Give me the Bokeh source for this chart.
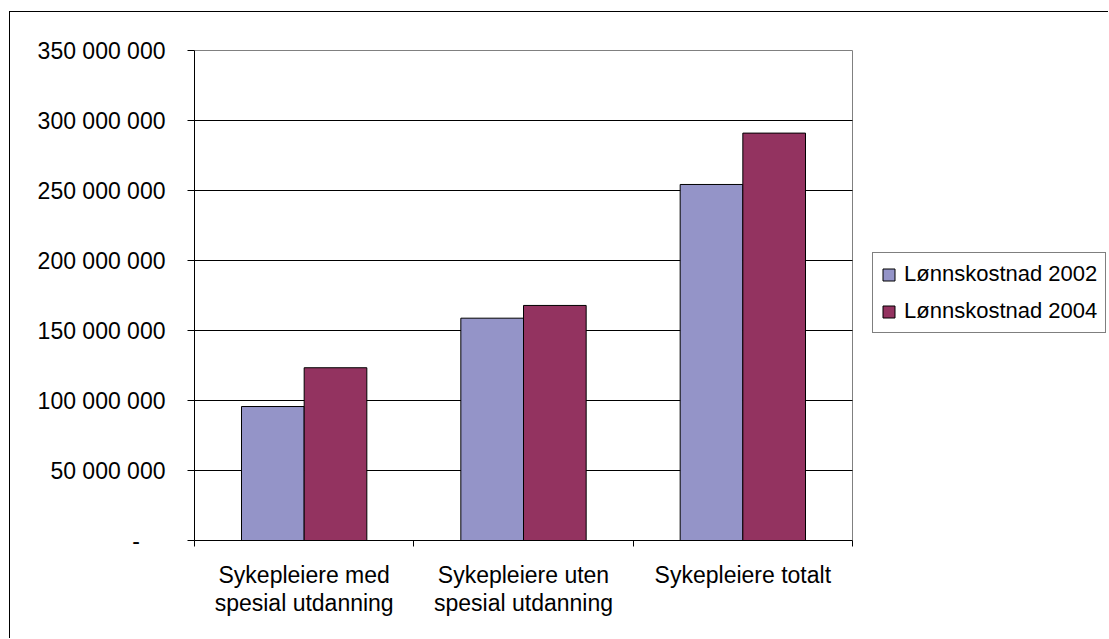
from bokeh.plotting import figure
from bokeh.models import (ColumnDataSource, Range1d, FixedTicker, LinearAxis,
                          Legend, LegendItem)
from bokeh.embed import file_html
from bokeh.resources import INLINE

categories = ["Sykepleiere med\nspesial utdanning",
              "Sykepleiere uten\nspesial utdanning",
              "Sykepleiere totalt"]
series_names = ["Lønnskostnad 2002", "Lønnskostnad 2004"]
cost_2002 = [95_700_000, 158_800_000, 254_300_000]
cost_2004 = [123_400_000, 167_900_000, 291_000_000]
y_ticks = [0, 50_000_000, 100_000_000, 150_000_000, 200_000_000,
           250_000_000, 300_000_000, 350_000_000]
y_tick_labels = ["-\u2007\u2007", "50 000 000", "100 000 000", "150 000 000",
                 "200 000 000", "250 000 000", "300 000 000", "350 000 000"]
colors = ["#9494C8", "#933360"]

FONT = "Liberation Sans"
FS = "23px"

# layout (pixels)
W, H = 1099, 627
LEFT, TOP, BOTTOM = 184, 37, 99
AREA_W, AREA_H = 658, 490          # visible plot-area box
frame_w = W - LEFT
frame_h = H - TOP - BOTTOM

n = len(categories)
y_max = y_ticks[-1]
centers = [i + 0.5 for i in range(n)]
bar_w = 1 / 3.5
source = ColumnDataSource(dict(
    x1=[c - bar_w / 2 for c in centers], x2=[c + bar_w / 2 for c in centers],
    v2002=cost_2002, v2004=cost_2004))

p = figure(x_range=Range1d(0, n * frame_w / AREA_W),
           y_range=Range1d(0, y_max * frame_h / AREA_H),
           width=W, height=H, output_backend="svg", toolbar_location=None,
           x_axis_location=None, min_border_left=LEFT, min_border_right=0,
           min_border_top=TOP, min_border_bottom=BOTTOM)
p.styles = {"border-left": "1px solid black", "border-top": "1px solid black",
            "margin-left": "9px", "margin-top": "11px"}
p.background_fill_color = "white"
p.border_fill_color = "white"
p.outline_line_color = None
p.xgrid.visible = False
p.ygrid.visible = False

# plot-area border (grey) and horizontal grid lines (black)
p.quad(left=[0], right=[n], bottom=[0], top=[y_max], fill_color=None,
       line_color="#808080", line_width=1)
grid_y = y_ticks[1:-1]
p.segment(x0=[0] * len(grid_y), x1=[n] * len(grid_y), y0=grid_y, y1=grid_y,
          line_color="black", line_width=1)

r1 = p.vbar(x="x1", top="v2002", width=bar_w, source=source,
            fill_color=colors[0], line_color="black", line_width=1)
r2 = p.vbar(x="x2", top="v2004", width=bar_w, source=source,
            fill_color=colors[1], line_color="black", line_width=1)

# y axis
yax = p.yaxis[0]
yax.bounds = (0, y_max)
yax.ticker = FixedTicker(ticks=y_ticks)
yax.major_label_overrides = {t: l for t, l in zip(y_ticks, y_tick_labels)}
yax.major_label_text_font = FONT
yax.major_label_text_font_size = FS
yax.major_label_text_color = "black"
yax.major_label_standoff = 22
yax.major_tick_out = 7
yax.major_tick_in = 0
yax.minor_tick_line_color = None
yax.axis_line_color = "black"
yax.major_tick_line_color = "black"

# x axis: category labels at centres, tick marks at category boundaries
cat_ax = LinearAxis(bounds=(0, n),
                    ticker=FixedTicker(ticks=centers, minor_ticks=list(range(n + 1))),
                    major_label_overrides={c: l for c, l in zip(centers, categories)},
                    axis_line_color="black", major_tick_line_color=None,
                    major_tick_out=0, major_tick_in=0,
                    minor_tick_line_color="black", minor_tick_out=6, minor_tick_in=0,
                    major_label_standoff=15,
                    major_label_text_font=FONT, major_label_text_font_size=FS,
                    major_label_text_line_height=1.1,
                    major_label_text_color="black")
p.add_layout(cat_ax, "below")

legend = Legend(items=[LegendItem(label=series_names[0], renderers=[r1]),
                       LegendItem(label=series_names[1], renderers=[r2])],
                location=(678, 207), border_line_color="black", border_line_width=1,
                background_fill_color="white", background_fill_alpha=1,
                padding=8, spacing=11, margin=0, glyph_width=15, glyph_height=15,
                label_standoff=8, label_text_font=FONT, label_text_font_size="22px",
                label_text_color="black")
p.add_layout(legend)

open("out.html", "w").write(file_html(p, INLINE))
